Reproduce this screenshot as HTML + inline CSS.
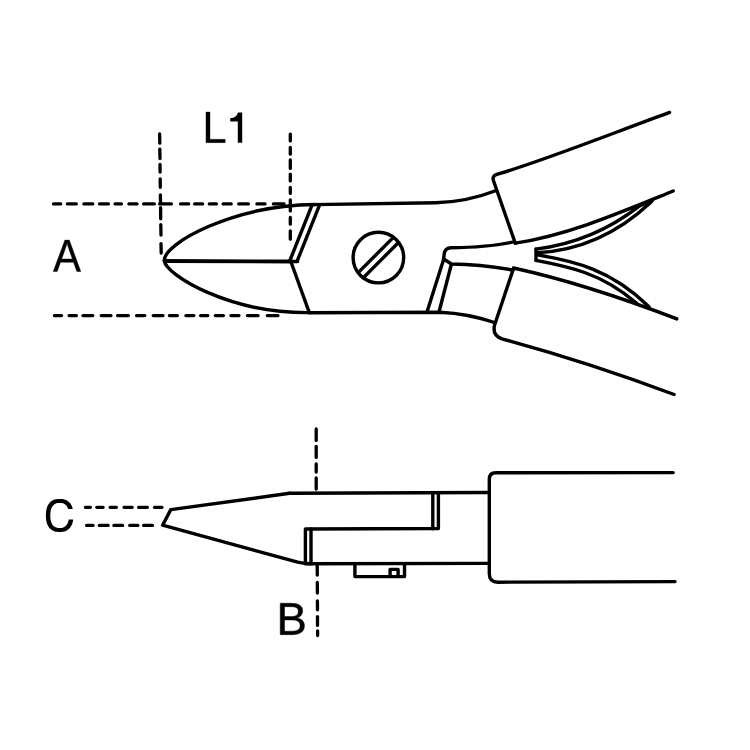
<!DOCTYPE html>
<html><head><meta charset="utf-8">
<style>
html,body{margin:0;padding:0;background:#fff;width:750px;height:750px;overflow:hidden}
svg{display:block}
</style></head><body>
<svg width="750" height="750" viewBox="0 0 750 750">
<rect width="750" height="750" fill="#fff"/>
<g fill="none" stroke="#000" stroke-width="3.4" stroke-linecap="round" stroke-linejoin="round">
<!-- dashes -->
<path stroke-width="3.3" d="M53.5,203.9H60.7M67.4,203.9H76.3M83.9,203.9H92.8M99.5,203.9H108.4M115.1,203.9H121.4M128.9,203.9H137.0M143.6,203.9H154.4M159.6,203.9H171.4M180.6,203.9H188.7M194.6,203.9H202.6M209.3,203.9H216.4M223.1,203.9H231.2M238.7,203.9H248.4M256.9,203.9H265.0M273.4,203.9H284.0M54.4,315.6H61.6M69.1,315.6H76.4M83.0,315.6H92.8M101.2,315.6H111.0M117.6,315.6H128.4M136.6,315.6H144.8M153.2,315.6H163.0M169.4,315.6H177.4M185.9,315.6H193.9M200.6,315.6H207.8M215.3,315.6H223.4M230.9,315.6H239.0M247.4,315.6H258.1M267.3,315.6H278.0M159.6,133.8L159.8,143.2M159.8,149.1L160.0,158.5M160.0,164.4L160.1,172.0M160.2,178.8L160.3,187.3M160.4,195.0L160.5,202.4M160.6,207.6L160.7,218.8M160.8,224.7L161.0,235.0M161.0,243.6L161.2,253.0M290.3,134.1V140.9M290.3,147.4V154.2M290.3,159.9V168.4M290.3,174.1V180.9M290.3,187.4V193.4M290.3,199.9V210.9M290.3,217.4V224.2M290.3,230.8V239.2M85.4,507.3H90.4M96.8,507.3H103.1M110.1,507.3H116.4M124.0,507.3H132.2M138.6,507.3H147.4M154.4,507.3H162.0M86.6,525.4H93.0M99.3,525.4H108.2M113.9,525.4H122.7M129.7,525.4H137.9M143.6,525.4H152.5M316.2,428.9V440.4M316.2,446.3V457.4M316.2,463.9V472.1M316.2,477.9V489.1M317.2,565.6L317.3,575.0M317.3,582.4L317.4,593.0M317.4,601.0L317.5,609.8M317.5,616.6L317.5,625.4M317.6,631.0L317.6,635.6"/>
<!-- tip -->
<path d="M164.3,260.5 C163.5,243.8 232.4,205.3 315,204.5"/>
<path d="M164.3,261 C166.6,275.2 228.9,313.4 309.3,312.6"/>
<path d="M165,261 L292,261.5" stroke-width="3.8"/>
<path d="M290.1,260 L312,205.1"/>
<path d="M297.6,260 L319.5,205.1"/>
<path d="M290.1,261.5 L297.6,261.5"/>
<path d="M291.2,262.5 L309.3,312.6"/>
<!-- body -->
<path d="M313,204.6 L436,202.8 C454.7,202.2 476,198.3 494.9,191"/>
<path d="M309.3,312.8 L440,312.2 Q468,313.5 494.5,322.5"/>
<circle cx="378.4" cy="257.6" r="25.3"/>
<path d="M358.2,272.6 L393.4,237.4"/>
<path d="M363.3,277.7 L398.5,242.5"/>
<!-- lower jaw -->
<path d="M443.6,259 L444.2,254 Q445,248.3 450.4,247.8 C470,247.5 495,246.5 514.5,241.6"/>
<path d="M443.6,259 L451.5,264 C465,264.2 490,266 513,270"/>
<path d="M443.6,259.5 L427,312"/>
<path d="M451.3,264.5 L439,312"/>
<!-- upper handle -->
<path d="M515.3,243.3 L493.5,180.7 Q491.9,176 496.7,174.4 C539,162.4 609.3,134.5 669.6,112.4"/>
<path d="M515.3,243.1 C568,235.2 620.6,212.4 673.3,191"/>
<!-- spring -->
<path d="M536,249.1 C570.5,244.9 605.1,232.7 639.6,205.9 L652,200.8"/>
<path d="M537.3,252.8 C574.9,250.7 612.4,238.2 650,203 L652,200.8"/>
<path d="M537.3,254.9 C574.2,261.1 611,269.5 647.9,305.8 L649,307"/>
<path d="M536,260.4 C568.7,266.6 601.8,273.3 634.8,301.9 L636.5,303"/>
<path d="M536,249 L536,260.5"/>
<!-- lower handle -->
<path d="M513.5,268 C568.3,280 622.5,298 676.8,318.9"/>
<path d="M513.5,268.5 L494.6,325 Q492,335.5 502,338.8 C559.4,354.4 616.7,372.8 674.1,394.5"/>

<!-- lower view -->
<path d="M289.6,493.3 L170.8,509.6 L162.6,525.2 L294,561.2 Q301,563.3 311,563.8"/>
<path d="M289.6,493.3 L488,492.5"/>
<path d="M305,563.8 L488,563.4"/>
<path d="M305.4,562.4 V529 L438.4,528.5 V493.8"/>
<path d="M311,562.4 V529"/>
<path d="M432.8,528.8 V493.8"/>
<path d="M354.9,564 V576.6 H404.5 V564"/>
<path d="M390.1,576.4 V569.4 H398.1 V576.4"/>
<path d="M673.2,472.6 L495.8,472.8 Q489.3,472.8 489.3,479.3 L489.3,573.5 Q489.3,582.2 498,582.2 L675,581.6"/>
</g>
<path fill="#000" stroke="#000" stroke-width="0.3" stroke-linejoin="miter" d="M205.95 142.65V111.95H210.03V139.25H225.25V142.65Z"/>
<path d="M238,112.4 H242.2 V142.8 H237.8 V121.6 L230.2,121.6 V118.2 Q236.5,117.8 238,112.4 Z" fill="#000"/>
<path fill="#000" stroke="#000" stroke-width="0.4" stroke-linejoin="miter" d="M76.84 271.5 73.56 262.32H60.52L57.22 271.5H53.2L64.89 240.1H69.3L80.8 271.5ZM67.04 243.31 66.86 243.93Q66.35 245.78 65.35 248.68L61.7 259H72.41L68.73 248.64Q68.16 247.1 67.59 245.16Z"/>
<path fill="#000" d="M72.78,509.00 L72.26,507.20 L71.57,505.57 L70.73,504.10 L69.75,502.81 L68.62,501.69 L67.35,500.76 L65.94,500.01 L64.38,499.45 L62.65,499.08 L60.62,498.91 L58.00,498.94 L56.09,499.17 L54.42,499.60 L52.91,500.22 L51.55,501.03 L50.32,502.02 L49.23,503.19 L48.29,504.54 L47.50,506.05 L46.86,507.74 L46.39,509.59 L46.07,511.66 L45.92,514.06 L45.93,517.22 L46.10,519.55 L46.44,521.58 L46.95,523.42 L47.61,525.07 L48.42,526.57 L49.38,527.89 L50.49,529.03 L51.73,530.00 L53.12,530.78 L54.65,531.38 L56.35,531.77 L58.31,531.97 L60.94,531.98 L62.91,531.78 L64.61,531.39 L66.15,530.80 L67.54,530.02 L68.79,529.06 L69.90,527.91 L70.86,526.60 L71.68,525.11 L72.34,523.45 L72.85,521.63 L73.19,519.60 L68.72,519.60 L68.43,520.99 L68.04,522.24 L67.55,523.39 L66.96,524.41 L66.29,525.31 L65.52,526.09 L64.67,526.74 L63.72,527.26 L62.69,527.64 L61.53,527.89 L60.17,527.99 L58.46,527.96 L57.22,527.79 L56.12,527.48 L55.13,527.03 L54.23,526.46 L53.41,525.75 L52.69,524.91 L52.05,523.95 L51.51,522.87 L51.07,521.68 L50.72,520.36 L50.48,518.91 L50.34,517.28 L50.30,515.04 L50.37,513.13 L50.54,511.56 L50.81,510.15 L51.18,508.87 L51.66,507.71 L52.22,506.67 L52.89,505.74 L53.64,504.94 L54.47,504.27 L55.40,503.73 L56.42,503.32 L57.55,503.05 L58.86,502.91 L60.59,502.92 L61.87,503.07 L62.99,503.35 L64.00,503.78 L64.92,504.33 L65.75,505.02 L66.49,505.83 L67.14,506.77 L67.70,507.83 L68.16,509.00Z"/>
<path fill="#000" stroke="#000" stroke-width="0.5" stroke-linejoin="miter" d="M304.45 625.8Q304.45 629.99 301.41 632.32Q298.37 634.65 292.95 634.65H280.25V603.25H291.62Q302.63 603.25 302.63 610.87Q302.63 613.66 301.08 615.55Q299.52 617.45 296.68 618.09Q300.41 618.54 302.43 620.6Q304.45 622.66 304.45 625.8ZM298.37 611.38Q298.37 608.84 296.63 607.75Q294.9 606.66 291.62 606.66H284.49V616.6H291.62Q295.01 616.6 296.69 615.32Q298.37 614.04 298.37 611.38ZM300.17 625.47Q300.17 619.92 292.39 619.92H284.49V631.24H292.73Q296.61 631.24 298.39 629.79Q300.17 628.34 300.17 625.47Z"/>
</svg>
</body></html>
